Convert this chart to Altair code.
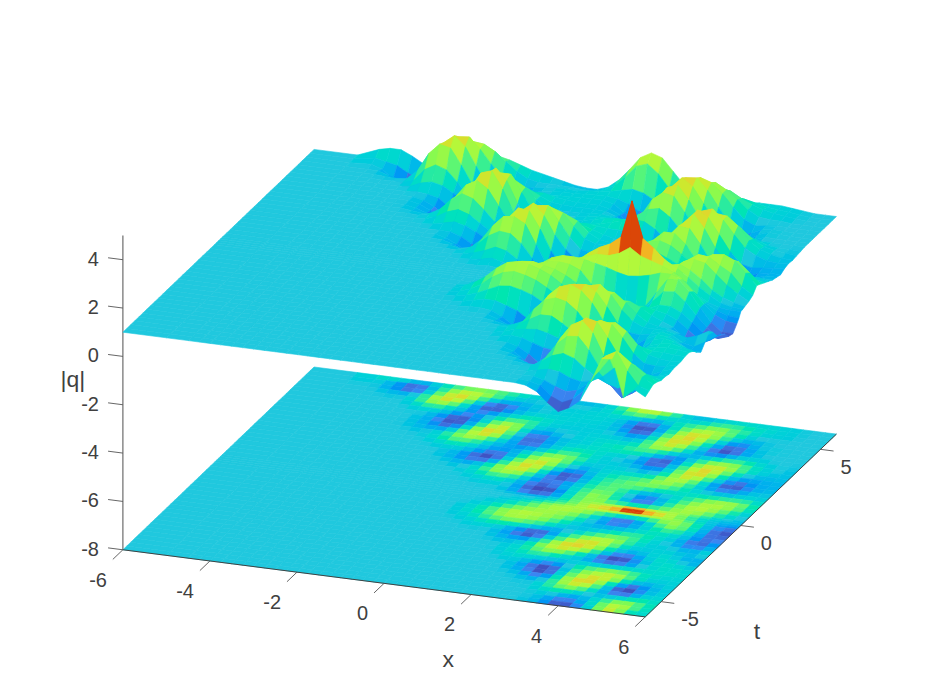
import altair as alt

# x columns: -6, -5, then every 0.25 from -4.5 to 6; rows run from t=6 down to t=-6 every 0.25,
# with two extra rows either side of the narrow peak at t=0.
xs = [-6, -5] + [-4.5 + 0.25*k for k in range(43)]
ts = sorted([6 - 0.25*k for k in range(49)] + [0.125, -0.125], reverse=True)

def pad(vals):  # values are listed up to x=6; columns further left sit on the flat background |q|=1
    return [1]*(len(xs) - len(vals)) + vals

t_p600 = [1.35,1.45,1.45,1.25,1,1.05,1.2,1.4,1.6,1.7,1.75,1.7,1.6,1.45,1.3,1.2,1.1,1,.9,.85,.85,1,1.35,1.85,2.4,2.65,2.5,2,1.5,1.05,.8,.85,1,1.05,1.1,1.15,1.15,1.15,1.1,1.05,1,1,1]
t_p575 = [1.15,1.05,.95,.7,.5,.75,1.2,1.7,2.15,2.35,2.3,2.05,1.7,1.35,1.1,1,1,1,.98,.95,.95,1.05,1.3,1.7,2.2,2.35,2,1.45,1.1,.95,1,1.15,1.35,1.45,1.4,1.3,1.2,1.15,1.1,1.05,1,1,1]
t_p550 = [1.05,.9,.55,.25,.08,.45,1.25,2,2.65,2.7,2.25,1.7,1.2,.95,.85,.95,1,1.05,1.05,1.05,1.1,1.15,1.2,1.3,1.4,1.3,1.05,1.05,1.35,1.4,1.35,1.6,1.9,1.85,1.6,1.4,1.25,1.15,1.1,1.05,1,1,1]
t_p525 = [1,.98,.85,.7,.6,.95,1.75,2.5,2.85,2.45,1.7,1,.5,.5,.7,.9,1,1.05,1.1,1.1,1.12,1.15,1.15,1.1,.95,.7,.55,.7,1.1,1.5,1.9,2.2,2.3,2.05,1.7,1.35,1.1,1.05,1.05,1,1,1,1]
t_p500 = [1,1,.97,.95,1,1.4,2.15,2.6,2.5,1.85,1.1,.45,.1,.25,.6,.85,1,1.05,1.1,1.12,1.15,1.15,1.15,1.05,.75,.35,.1,.4,1,1.7,2.35,2.6,2.45,2.05,1.55,1.1,.9,.95,1,1,1,1,1]
t_p475 = [1,1,1,1.15,1.65,1.9,1.75,1.3,.8,.4,.3,.55,.9,1.15,1.3,1.3,1.2,1.15,1.1,1.1,1.1,1,.8,.35,.05,.45,1.2,2.05,2.7,2.75,2.3,1.65,1.05,.6,.75,.95,1.02,1,1,1,1]
t_p450 = [1,1,1,1.05,1.25,1.35,1.25,1,.75,.6,.75,1,1.3,1.55,1.55,1.35,1.15,1.1,1.08,1.08,1.08,1.05,.9,.6,.35,.7,1.55,2.4,2.85,2.55,1.9,1.25,.6,.3,.6,.9,1.05,1.03,1,1,1]
t_p425 = [1,1,1.05,1,.9,.55,.3,.35,.8,1.4,1.95,2.05,1.8,1.35,1.05,1.02,1.03,1.05,1.08,1.1,1.05,.9,.75,1.15,1.95,2.55,2.7,2.15,1.45,.85,.3,.2,.55,.85,1.02,1,1,1,1]
t_p400 = [1,1,1,.9,.7,.3,.15,.3,.85,1.7,2.45,2.45,1.75,1.1,.8,.9,1,1.05,1.1,1.15,1.15,1.1,1.05,1.45,2.15,2.5,2.4,1.8,1.1,.5,.15,.2,.65,.9,1,1,1,1,1]
t_p375 = [1,1,1,.9,.7,.35,.12,.55,1.4,2.35,2.8,2.35,1.45,.7,.4,.65,.9,1.05,1.1,1.2,1.3,1.35,1.35,1.6,1.9,2,1.7,1.2,.85,.75,.85,1.1,1.35,1.35,1.2,1.05,1,1,.97]
t_p350 = [1,1,.98,.9,.75,.5,.5,1.1,2,2.7,2.85,2.15,1.25,.55,.25,.5,.8,1,1.05,1.15,1.25,1.35,1.5,1.6,1.55,1.3,.9,.65,.75,1.1,1.55,1.85,1.95,1.75,1.4,1.15,1.05,1,.95]
t_p325 = [1,.95,.9,.95,1.1,1.75,2.3,2.55,2.25,1.6,1,.5,.2,.55,.9,1.15,1.3,1.35,1.3,1.25,1.25,1.25,1.1,.75,.35,.3,.8,1.5,2.15,2.45,2.4,2.05,1.5,1.2,1.05,.95,.92]
t_p300 = [1,1,.98,1.1,1.35,1.8,2.1,1.95,1.55,1.1,.85,.55,.4,.65,1,1.3,1.5,1.45,1.3,1.15,1.05,.95,.7,.35,.12,.45,1.15,1.95,2.65,2.8,2.4,1.85,1.35,1.1,.95,.9,.95]
t_p275 = [1,1,1,1.05,1.2,1.45,1.6,1.45,1.15,.85,.7,.75,.85,1.2,1.55,1.85,1.95,1.75,1.35,1.1,1.05,1,.9,.65,.35,.65,1.4,2.25,2.85,2.6,1.95,1.3,.85,.75,.8,.85,.9]
t_p250 = [1,1,1.05,1.15,1.25,1.15,.95,.7,.5,.6,1,1.55,2.05,2.35,2.2,1.7,1.25,1.1,1.1,1.05,.95,.8,.6,.95,1.6,2.4,2.85,2.3,1.55,.95,.55,.55,.75,.8,.8]
t_p225 = [1,1,1,1,1,.85,.6,.3,.15,.5,1.3,2,2.55,2.6,2,1.4,.95,.9,1.05,1.15,1.2,1.15,1.05,1.35,1.95,2.45,2.4,1.8,1.1,.55,.2,.35,.7,.85,.85]
t_p200 = [1,1,.9,.7,.4,.15,.15,.8,1.75,2.45,2.8,2.35,1.6,1.05,.65,.8,1.1,1.25,1.35,1.45,1.55,1.9,2.3,2.3,1.9,1.3,.75,.35,.15,.4,.75,.9,.9]
t_p175 = [1,1,.98,.85,.65,.55,.85,1.5,2.2,2.7,2.65,1.95,1.1,.5,.2,.6,1.1,1.4,1.6,1.75,1.85,2,2.1,1.95,1.65,1.3,1,.85,.75,.9,1.05,1.1,1]
t_p150 = [1,.98,.9,1,1.4,2,2.45,2.5,2.25,1.45,.65,.25,.1,.5,1.1,1.45,1.7,1.85,2,1.95,1.8,1.6,1.4,1.25,1.15,1.1,1.05,1.15,1.25,1.2,1.1]
t_p125 = [1,1,1,1.1,1.35,1.75,2,1.95,1.6,1.05,.55,.4,.4,.75,1.2,1.6,1.85,1.8,1.6,1.25,1.05,1.1,1.25,1.35,1.5,1.8,1.95,2.05,2,1.6,1.2]
t_p100 = [1,1.05,1.15,1.3,1.5,1.4,1.1,.7,.4,.4,.7,1.05,1.4,1.7,1.9,1.7,1.25,.85,.55,.75,1,1.35,1.75,2.1,2.35,2.4,2.2,1.75,1.3]
t_p075 = [1,1,1.05,1.1,1.2,1.1,.95,.55,.2,.2,.4,.95,1.5,1.95,2.15,1.75,1.2,.7,.3,.6,1.15,1.7,2.15,2.45,2.4,2.1,1.85,1.35,1.05]
t_p050 = [1,1,1.05,1,.9,.45,.12,.05,.2,.85,1.6,2,2.2,1.75,1.2,.7,.35,.75,1.3,1.85,2.25,2.4,2.3,1.9,1.5,1.2,.95]
t_p025 = [1,1,1,1,.95,.75,.6,.6,.75,1.15,1.65,1.95,2.1,2.05,2.1,2.15,2.4,2.35,2.1,2.2,2.3,2.1,1.8,1.4,1.15,1,.9]
t_p0125 = [1,1,.95,.95,1.05,1.3,1.7,2.05,2.3,2.45,2.6,2.85,3.3,2.95,2.6,2.45,2.2,1.9,1.55,1.25,1,.9,.87]
t_p000 = [1,1,1,1.1,1.3,1.5,1.75,2.1,2.45,2.75,2.95,3.3,4.85,3.35,3,2.6,2.1,1.7,1.3,1.05,.9,.85,.85]
t_m0125 = [1,1.05,1.15,1.35,1.65,1.9,2.1,2.25,2.4,2.55,2.55,2.7,3,2.7,2.55,2.4,2.2,1.9,1.45,1.1,.85,.7,.65]
t_m025 = [1.05,1.1,1.25,1.55,1.95,2.25,2.4,2.4,2.35,2.25,2.15,2,1.9,1.95,2.05,2.2,2.2,2.05,1.6,1.15,.75,.55,.5]
t_m050 = [1,1.05,1.15,1.35,1.6,1.9,2.1,2.25,2.3,2.25,2.05,1.55,1.1,.7,.45,.55,.95,1.55,2.15,2.2,1.75,1.15,.6,.25,.25]
t_m075 = [1.05,1.2,1.4,1.75,2.1,2.3,2.35,2.25,2.15,1.95,1.7,1.25,.85,.5,.3,.55,.9,1.35,1.8,1.85,1.5,1,.55,.15,.3]
t_m100 = [1.15,1.35,1.65,2.05,2.35,2.45,2.4,2.25,2.05,1.75,1.4,1.05,.8,.65,.6,.75,1,1.2,1.4,1.4,1.2,.85,.5,.35,.55]
t_m125 = [1.1,1.25,1.5,1.85,2.1,2.2,2.1,1.95,1.7,1.4,1.1,.95,.9,1,1.1,1.25,1.4,1.45,1.35,1.25,1.05,.7,.35,.4,.7]
t_m150 = [1,1.02,1.05,1.15,1.3,1.5,1.7,1.75,1.65,1.5,1.25,1,.9,.95,1.05,1.3,1.55,1.75,1.75,1.55,1.3,1.1,.9,.5,.2,.5,.8]
t_m175 = [1,1.05,1.15,1.25,1.25,1.1,.95,.65,.45,.45,.85,1.3,1.65,2.1,2.25,2.2,1.85,1.45,1.15,1.05,1,.85,.6,.8,1.1]
t_m200 = [1.05,1.05,1,.8,.5,.2,.08,.45,1.1,1.7,2.25,2.55,2.65,2.3,1.7,1.3,1.1,1.1,1.1,1,.9,1.05,1.3]
t_m225 = [1,1,1,.85,.65,.4,.35,.95,1.7,2.35,2.7,2.75,2.5,1.95,1.3,1,.95,1.05,1.2,1.1,.85,.75,1]
t_m250 = [1,.95,.85,.85,1,1.6,2.3,2.7,2.85,2.65,2.2,1.55,.95,.65,.7,1,1.25,1.2,1,.75,.75]
t_m275 = [1,1,.98,1.05,1.25,1.8,2.25,2.4,2.3,1.95,1.45,.85,.3,.15,.4,.8,1.2,1.3,1.2,1,.9]
t_m300 = [1,1.05,1.15,1.3,1.55,1.8,1.8,1.55,1.25,.9,.45,.12,.1,.3,.75,1.1,1.25,1.3,1.2,1.1]
t_m325 = [1,1.1,1.25,1.3,1.35,1.25,1.1,1.05,1,.85,.7,.7,.8,1,1.15,1.25,1.3,1.25,1.2]
t_m350 = [1,1.05,1.15,1.1,.95,.8,.75,.9,1.2,1.4,1.5,1.6,1.65,1.5,1.35,1.25,1.25,1.2,1.2]
t_m375 = [1,1.02,.9,.65,.3,.25,.6,1.3,1.85,2.15,2.35,2.4,2.1,1.6,1.25,1.15,1.1,1.15]
t_m400 = [1,1,.85,.55,.15,.03,.55,1.4,2,2.4,2.6,2.5,2,1.4,1.05,1,1.05,1.15]
t_m425 = [1,.95,.8,.4,.2,.75,1.75,2.4,2.8,2.7,2.1,1.4,.7,.55,.8,1,1.15]
t_m450 = [1,1,.95,.8,.6,1.1,2,2.6,2.85,2.4,1.5,.6,.08,.25,.75,.95,1.1]
t_m475 = [1,1,.95,.95,1.3,1.9,2.3,2.35,1.85,1.15,.5,.05,.3,.9,1.1,1.15]
t_m500 = [1,1,1,1.05,1.3,1.6,1.75,1.6,1.25,.95,.75,.6,.85,1.2,1.3,1.15]
t_m525 = [1,1,1,1.1,1.2,1.15,.95,.85,.95,1.2,1.6,1.8,1.8,1.5,1.25]
t_m550 = [1,1,1,1,.9,.7,.55,.65,1,1.55,2.15,2.4,2.05,1.55,1.3]
t_m575 = [1,1,1,.95,.85,.45,.25,.45,.85,1.55,2.4,2.65,1.9,1.35,1.2]
t_m600 = [1,1,.95,.75,.35,.03,.25,.6,1.45,2.45,2.5,.95,1.35,1.1]

rows = [pad(r) for r in [
    t_p600,t_p575,t_p550,t_p525,t_p500,t_p475,t_p450,t_p425,t_p400,t_p375,t_p350,t_p325,
    t_p300,t_p275,t_p250,t_p225,t_p200,t_p175,t_p150,t_p125,t_p100,t_p075,t_p050,t_p025,t_p0125,
    t_p000,t_m0125,t_m025,t_m050,t_m075,t_m100,t_m125,t_m150,t_m175,t_m200,t_m225,t_m250,t_m275,
    t_m300,t_m325,t_m350,t_m375,t_m400,t_m425,t_m450,t_m475,t_m500,t_m525,t_m550,t_m575,t_m600]]

z_ticks = [4,2,0,-2,-4,-6,-8]
x_ticks = [-6,-4,-2,0,2,4,6]
t_ticks = [-5,0,5]
Z_FLOOR = -8
Z_TOP = 5

color_domain = [0, 0.5, 1, 1.5, 2, 2.4, 2.8, 3.3, 3.9, 4.4, 4.85]
color_range = ["#4034a4", "#3a86f2", "#20c8de", "#22e8a8", "#7cfa54", "#b4f83a", "#e6d030",
               "#f8a422", "#f06210", "#c82a04", "#7a0c02"]

def project(x, t, z):
    u, v = x + 6, t + 6
    return [122 + 43.58*u + 15.95*v - 8, 550 + 5.6*u - 15.25*v - 24.2*(z + 8) - 8]

def quad(i, j, zf):
    corners = [(j, i), (j+1, i), (j+1, i+1), (j, i+1)]
    ring = [project(xs[a], ts[b], zf(rows[b][a])) for a, b in corners]
    vals = [rows[b][a] for a, b in corners]
    mean = sum(vals) / 4
    top = max(vals)
    shade = 0.5*top + 0.5*mean if top > 3 else mean
    return {"type": "Feature", "properties": {"v": shade},
            "geometry": {"type": "Polygon", "coordinates": [ring + [ring[0]]]}}

def line(p, q):
    return {"type": "Feature", "properties": {},
            "geometry": {"type": "LineString", "coordinates": [p, q]}}

floor_f, surf_f = [], []
for i in range(len(ts) - 1):
    for j in range(len(xs) - 1):
        floor_f.append(quad(i, j, lambda z: Z_FLOOR))
        surf_f.append(quad(i, j, lambda z: z))

W, H = 910, 679
frame = [{"type": "Feature", "properties": {}, "geometry": {"type": "Polygon",
          "coordinates": [[[0,0],[W,0],[W,H],[0,H],[0,0]]]}}]

cscale = alt.Scale(domain=color_domain, range=color_range)

def surface(feats):
    return alt.Chart(alt.Data(values=feats)).mark_geoshape(strokeWidth=0.6).encode(
        color=alt.Color("properties.v:Q", scale=cscale, legend=None),
        stroke=alt.Stroke("properties.v:Q", scale=cscale, legend=None),
    ).project(type="identity")

def lines(feats, color, width):
    return alt.Chart(alt.Data(values=feats)).mark_geoshape(
        filled=False, stroke=color, strokeWidth=width).project(type="identity")

def texts(recs, align, size):
    return alt.Chart(alt.Data(values=recs)).mark_text(
        font="Liberation Sans", fontSize=size, color="#404040", align=align, baseline="middle"
    ).encode(longitude=alt.Longitude("lon:Q"), latitude=alt.Latitude("lat:Q"),
             text=alt.Text("s:N")).project(type="identity")

def shifted(p, dx, dy, s):
    return {"lon": p[0] + dx, "lat": p[1] + dy, "s": s}

edges = [line(project(-6,-6,-8), project(6,-6,-8)), line(project(6,-6,-8), project(6,6,-8))]
tick_lines = (
    [line(project(x,-6,-8), project(x,-6.63,-8)) for x in x_ticks] +
    [line(project(6,t,-8), project(6.3,t,-8)) for t in t_ticks] +
    [line(project(-6,-6,z), project(-6.34,-6,z)) for z in z_ticks]
)
z_axis = [line(project(-6,-6,Z_FLOOR), project(-6,-6,Z_TOP))]

x_labels = [shifted(project(x,-6,-8), -16, 31, str(x)) for x in x_ticks]
z_labels = [shifted(project(-6,-6,z), -24, 0, str(z)) for z in z_ticks]
t_labels = [shifted(project(6,t,-8), 20, 18.5, str(t)) for t in t_ticks]
titles = [shifted(project(2,-6,-8), -23, 66, "x"),
          shifted(project(6,-3,-8), 64, 61, "t"),
          shifted(project(-6,-6,-0.9), -50, 2, "|q|")]

chart = alt.layer(
    alt.Chart(alt.Data(values=frame)).mark_geoshape(opacity=0).project(type="identity"),
    lines(z_axis, "#808080", 1.4),
    surface(floor_f),
    lines(edges, "#404040", 1),
    lines(tick_lines, "#555555", 0.9),
    surface(surf_f),
    texts(x_labels, "right", 20),
    texts(z_labels, "right", 20),
    texts(t_labels, "left", 20),
    texts(titles, "center", 23),
).properties(width=W, height=H, padding=0, background="white").configure_view(strokeWidth=0)

chart.save("out.html", embed_options={"renderer": "svg", "actions": False})
